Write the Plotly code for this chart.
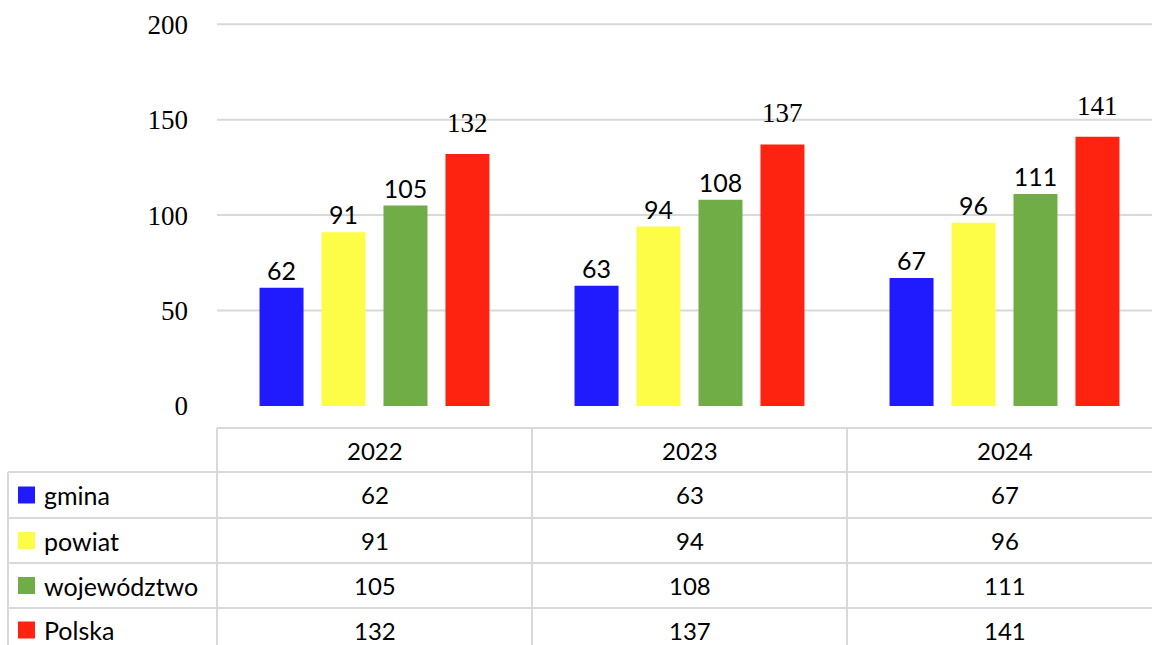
import plotly.graph_objects as go

# ---- data ----
years = ["2022", "2023", "2024"]
series_names = ["gmina", "powiat", "województwo", "Polska"]
gmina = [62, 63, 67]
powiat = [91, 94, 96]
wojewodztwo = [105, 108, 111]
polska = [132, 137, 141]
y_ticks = [0, 50, 100, 150, 200]

series_values = [gmina, powiat, wojewodztwo, polska]
colors = ["#1f1aff", "#fdfd47", "#70ad47", "#fe2211"]
SANS = "Lato, Calibri, Carlito, 'Noto Sans', sans-serif"
SERIF = "'Liberation Serif', 'Times New Roman', serif"

BARGAP = 0.213
BARGROUPGAP = 0.29
n_series = len(series_names)

fig = go.Figure()
for k, (name, vals, col) in enumerate(zip(series_names, series_values, colors)):
    serif_label = (k == n_series - 1)
    fig.add_trace(go.Bar(
        x=years, y=vals, name=name,
        marker=dict(color=col, line=dict(width=0)),
        text=None if serif_label else [str(v) for v in vals],
        textposition="outside",
        textfont=dict(family=SANS, size=25, color="black"),
        cliponaxis=False, showlegend=False, hoverinfo="skip",
    ))

W, H = 1152, 645
ML, MR, MT, MB = 217, 0, 15, 217
plot_h = H - MT - MB
plot_w = W - ML - MR

def py(pix):
    """pixel row -> paper y"""
    return (H - MB - pix) / plot_h

def px(pix):
    return (pix - ML) / plot_w

annotations = []
# serif value labels of the last series (Polska), sitting a bit higher above the bars
slot = (1 - BARGAP) / n_series
for j, v in enumerate(polska):
    annotations.append(dict(x=j + (n_series - 1 - (n_series - 1) / 2) * slot, xref="x", y=v, yref="y",
                            text=str(v), showarrow=False, yanchor="bottom", yshift=14,
                            font=dict(family=SERIF, size=27, color="black")))

grid_col = "#d9d9d9"
shapes = []
for v in y_ticks[1:]:
    shapes.append(dict(type="line", xref="paper", yref="y", x0=0, x1=1, y0=v, y1=v,
                       line=dict(color=grid_col, width=2), layer="below"))

# data table
row_lines = [472, 518, 563, 608]
bottom = py(650)
shapes.append(dict(type="line", xref="paper", yref="paper", x0=0, x1=1, y0=0, y1=0,
                   line=dict(color=grid_col, width=2)))
for r in row_lines:
    shapes.append(dict(type="line", xref="paper", yref="paper", x0=px(8), x1=1, y0=py(r), y1=py(r),
                       line=dict(color=grid_col, width=2)))
shapes.append(dict(type="line", xref="paper", yref="paper", x0=0, x1=0, y0=0, y1=bottom,
                   line=dict(color=grid_col, width=2)))
shapes.append(dict(type="line", xref="paper", yref="paper", x0=px(8), x1=px(8), y0=py(472), y1=bottom,
                   line=dict(color=grid_col, width=2)))
for i in range(len(years) - 1):
    shapes.append(dict(type="line", xref="x", yref="paper", x0=i + 0.5, x1=i + 0.5, y0=0, y1=bottom,
                       line=dict(color=grid_col, width=2)))

header_c = 450
row_c = [495, 540.5, 585.5, 630]
for j, yr in enumerate(years):
    annotations.append(dict(x=j, xref="x", y=py(header_c), yref="paper", text=yr, showarrow=False,
                            font=dict(family=SANS, size=24, color="black"),
                            xanchor="center", yanchor="middle"))
for i, (name, vals, col) in enumerate(zip(series_names, series_values, colors)):
    yc = row_c[i]
    shapes.append(dict(type="rect", xref="paper", yref="paper",
                       x0=px(18), x1=px(35), y0=py(yc - 8.5), y1=py(yc + 8.5),
                       fillcolor=col, line=dict(width=0)))
    annotations.append(dict(x=px(42), xref="paper", y=py(yc), yref="paper", text=name, showarrow=False,
                            font=dict(family=SANS, size=25, color="black"),
                            xanchor="left", yanchor="middle"))
    for j in range(len(years)):
        annotations.append(dict(x=j, xref="x", y=py(yc), yref="paper", text=str(vals[j]), showarrow=False,
                                font=dict(family=SANS, size=24, color="black"),
                                xanchor="center", yanchor="middle"))

scale = 1.909  # px per unit
y_min = -(428 - 406) / scale
y_max = y_min + plot_h / scale

fig.update_layout(
    width=W, height=H,
    margin=dict(l=ML, r=MR, t=MT, b=MB, pad=0, autoexpand=False),
    paper_bgcolor="white", plot_bgcolor="white",
    barmode="group", bargap=BARGAP, bargroupgap=BARGROUPGAP,
    shapes=shapes, annotations=annotations, hovermode=False,
    xaxis=dict(type="category", range=[-0.5, plot_w / 315 - 0.5], showticklabels=False, showgrid=False,
               zeroline=False, showline=False, fixedrange=True),
    yaxis=dict(range=[y_min, y_max], tickvals=y_ticks, showgrid=False, zeroline=False,
               showline=False, ticks="", ticklabelstandoff=28, fixedrange=True,
               tickfont=dict(family=SERIF, size=27, color="black")),
)

fig.write_html(
    "out.html",
    config={"displayModeBar": False, "staticPlot": True},
    post_script="document.body.style.margin='0';document.body.style.overflow='hidden';",
)
